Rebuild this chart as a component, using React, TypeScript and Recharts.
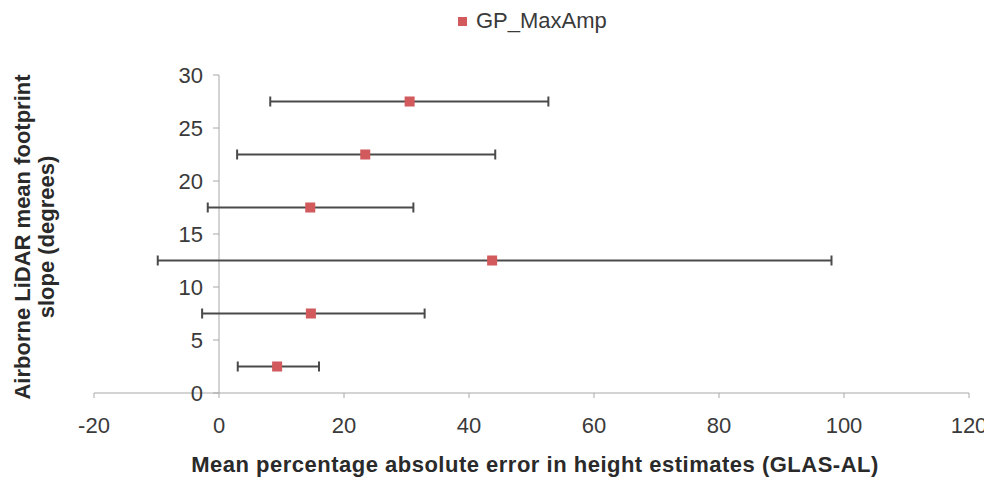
import { ScatterChart, Scatter, XAxis, YAxis, ErrorBar, ReferenceLine, Legend } from "recharts";

// Slope classes (degrees) and mean absolute error (%) with min/max range
const SLOPE_CLASSES = [2.5, 7.5, 12.5, 17.5, 22.5, 27.5];
const MEAN_ERROR = [9.3, 14.7, 43.7, 14.6, 23.4, 30.5];
const ERROR_LOW = [3.0, -2.7, -9.8, -1.8, 2.9, 8.2];
const ERROR_HIGH = [16.0, 32.9, 98.0, 31.1, 44.2, 52.7];

const X_TICKS = [-20, 0, 20, 40, 60, 80, 100, 120];
const Y_TICKS = [0, 5, 10, 15, 20, 25, 30];

const SERIES_NAME = "GP_MaxAmp";
const X_TITLE = "Mean percentage absolute error in height estimates (GLAS-AL)";
const Y_TITLE_LINES = ["Airborne LiDAR mean footprint", "slope (degrees)"];

const data = SLOPE_CLASSES.map((y, i) => ({
  x: MEAN_ERROR[i],
  y,
  errX: [MEAN_ERROR[i] - ERROR_LOW[i], ERROR_HIGH[i] - MEAN_ERROR[i]],
}));

const WIDTH = 984;
const HEIGHT = 472;
const Y_AXIS_WIDTH = 86;
const LEGEND_HEIGHT = 26;
// the top legend pushes the plot down by its own height
const MARGIN = { top: 67 - LEGEND_HEIGHT, right: 23, bottom: 27, left: 0 };
const X_AXIS_HEIGHT = 60;
const PLOT_WIDTH = WIDTH - Y_AXIS_WIDTH - MARGIN.left - MARGIN.right;
const X_DOMAIN: [number, number] = [-20, 120];
// vertical axis crosses at x = 0, like the spreadsheet original
const AXIS_X =
  MARGIN.left + Y_AXIS_WIDTH + (PLOT_WIDTH * (0 - X_DOMAIN[0])) / (X_DOMAIN[1] - X_DOMAIN[0]);

const FONT = "'Liberation Sans', Arial, sans-serif";
const AXIS_COLOR = "#a8a8a8";
const TEXT_COLOR = "#3a3a3a";
const TITLE_COLOR = "#2a2a2a";
const MARKER_COLOR = "#d2595c";
const ERROR_COLOR = "#4a4a4a";

const YTick = (props: any) => {
  const { y, payload } = props;
  return (
    <g>
      <line x1={AXIS_X - 6} x2={AXIS_X} y1={y} y2={y} stroke={AXIS_COLOR} />
      <text
        x={AXIS_X - 16}
        y={y}
        dy="0.35em"
        textAnchor="end"
        fontSize={22}
        fontFamily={FONT}
        fill={TEXT_COLOR}
      >
        {payload.value}
      </text>
    </g>
  );
};

const SquareMarker = (props: any) => {
  const { cx, cy } = props;
  return <rect x={cx - 5} y={cy - 5} width={10} height={10} fill={MARKER_COLOR} />;
};

const LegendContent = () => (
  <div
    style={{
      display: "flex",
      alignItems: "center",
      height: LEGEND_HEIGHT,
      fontFamily: FONT,
      fontSize: 22,
      color: TEXT_COLOR,
    }}
  >
    <span style={{ width: 9, height: 9, background: MARKER_COLOR, marginRight: 9 }} />
    <span>{SERIES_NAME}</span>
  </div>
);

export default function App() {
  return (
    <ScatterChart width={WIDTH} height={HEIGHT} margin={MARGIN}>
      <XAxis
        dataKey="x"
        type="number"
        domain={X_DOMAIN}
        ticks={X_TICKS}
        interval={0}
        height={X_AXIS_HEIGHT}
        stroke={AXIS_COLOR}
        tickSize={5}
        tickMargin={19}
        tick={{ fontSize: 22, fontFamily: FONT, fill: TEXT_COLOR }}
        label={{
          content: () => (
            <text
              x={527}
              y={464}
              textAnchor="middle"
              fontSize={22}
              fontWeight="bold"
              letterSpacing={0.5}
              fontFamily={FONT}
              fill={TITLE_COLOR}
            >
              {X_TITLE}
            </text>
          ),
        }}
      />
      <YAxis
        dataKey="y"
        type="number"
        domain={[0, 30]}
        ticks={Y_TICKS}
        interval={0}
        width={Y_AXIS_WIDTH}
        axisLine={false}
        tickLine={false}
        tick={YTick}
        label={{
          content: () => (
            <text
              transform="translate(0, 229) rotate(-90)"
              textAnchor="middle"
              fontSize={22}
              fontWeight="bold"
              fontFamily={FONT}
              fill={TITLE_COLOR}
            >
              <tspan x={0} y={22}>{Y_TITLE_LINES[0]}</tspan>
              <tspan x={0} y={46}>{Y_TITLE_LINES[1]}</tspan>
            </text>
          ),
        }}
      />
      <ReferenceLine x={0} stroke={AXIS_COLOR} />
      <Legend
        layout="vertical"
        align="center"
        verticalAlign="top"
        wrapperStyle={{ top: 0, left: 450 }}
        content={LegendContent}
      />
      <Scatter name={SERIES_NAME} data={data} shape={SquareMarker} isAnimationActive={false}>
        <ErrorBar dataKey="errX" direction="x" width={5} stroke={ERROR_COLOR} strokeWidth={2} />
      </Scatter>
    </ScatterChart>
  );
}
